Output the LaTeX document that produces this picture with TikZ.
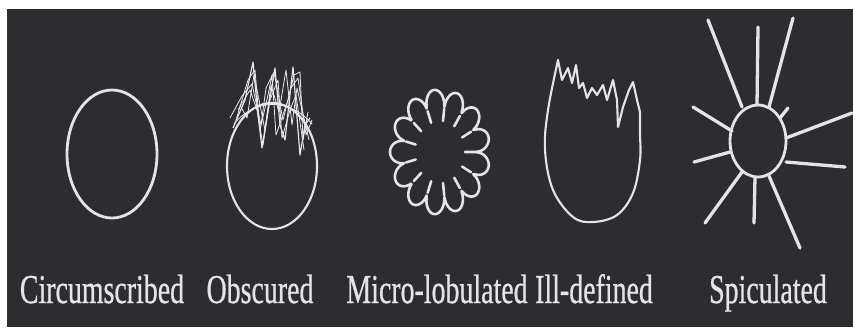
\documentclass[tikz,border=0pt]{standalone}
\usepackage{fontspec}
\setmainfont{Liberation Serif}
\newfontfamily\capfont[FakeBold=0.8]{Liberation Serif}
\definecolor{board}{HTML}{2D2D30}
\definecolor{chalk}{HTML}{E4E4E4}
\tikzset{
  outline/.style={draw=chalk, line width=2.4pt, line join=round, line cap=round},
  scribble/.style={draw=chalk!90, line width=0.7pt, line join=round},
  caption/.style={text=chalk, anchor=base, inner sep=0pt,
    font=\capfont\fontsize{35}{40}\selectfont},
}
\newcommand{\narrow}[1]{\scalebox{0.68}[1]{#1}}
\begin{document}
\begin{tikzpicture}[x=0.03cm, y=-0.03cm]
\useasboundingbox (0,0) rectangle (853,327);
\fill[white] (0,0) rectangle (853,327);
\fill[board] (7,9) rectangle (853,327);

% circumscribed
\draw[outline] (112,154) ellipse [x radius=45, y radius=64];

% obscured: circle with a tangle over its top
\draw[outline, line width=1.8pt] (272,166) ellipse [x radius=45, y radius=63];
\draw[scribble, line width=1pt] (233,128) -- (245,100) -- (253,62) -- (258,115) -- (262,148) -- (268,110) -- (275,68) -- (280,125) -- (285,140) -- (293,67) -- (298,130) -- (300,155) -- (305,125) -- (310,118);
\draw[scribble] (236,120) -- (248,80) -- (255,70) -- (260,130) -- (268,95) -- (272,75) -- (276,135) -- (288,100) -- (294,75) -- (300,72) -- (303,140) -- (308,112);
\draw[scribble] (238,110) -- (250,90) -- (257,110) -- (263,145) -- (270,100) -- (278,80) -- (282,138) -- (290,110) -- (296,95) -- (304,150);
\draw[scribble] (230,118) -- (242,96) -- (252,84) -- (261,125) -- (266,88) -- (274,72) -- (283,120) -- (291,88) -- (298,78) -- (306,135) -- (312,120);
\draw[scribble] (240,105) -- (247,118) -- (254,75) -- (259,100) -- (265,130) -- (271,85) -- (279,112) -- (286,70) -- (292,125) -- (297,88) -- (302,110) -- (309,140);
\draw[scribble] (234,124) .. controls (255,98) and (290,98) .. (312,124);

% micro-lobulated: 13 lobes with short inward notches
\draw[outline, line width=2.2pt] plot[domain=0:360, samples=400, smooth]
  ({440+(35+15*sqrt(abs(sin(6.5*\x))))*cos(\x)}, {152+1.25*(35+15*sqrt(abs(sin(6.5*\x))))*sin(\x)});
\foreach \a in {0,27.69,...,360}
  \draw[outline, line width=2.2pt] ({440+35*cos(\a)}, {152+1.25*35*sin(\a)}) -- ({440+25*cos(\a)}, {152+1.25*25*sin(\a)});

% ill-defined: rounded bottom, ragged top
\draw[outline, line width=1.8pt] plot[smooth, tension=0.6] coordinates {(558,60) (548,110) (545,150) (553,190) (573,217) (593,222) (617,215) (633,193) (640,160) (640,133) (640,112)};
\draw[outline, line width=1.8pt] (558,60) -- (562,80) -- (568,68) -- (572,83) -- (576,65) -- (579,88) -- (583,83) -- (587,98) -- (592,88) -- (597,95) -- (603,85) -- (607,100) -- (613,80) -- (617,100) -- (618,127) -- (623,107) -- (629,90) -- (633,82) -- (637,100) -- (640,112);

% spiculated: small core with rays
\draw[outline] (758,141) ellipse [x radius=28, y radius=36];
\foreach \ax/\ay/\bx/\by in {742/107/708/20, 757/105/758/27, 769/107/793/18, 780/118/788/108,
    786/138/852/113, 786/162/845/167, 769/176/800/248, 755/177/754/223,
    742/172/705/223, 730/152/694/162, 732/131/693/107}
  \draw[outline, line width=2.8pt] (\ax,\ay) -- (\bx,\by);

% names
\node[caption] (circ) at (102,303) {\narrow{Circumscribed}};
\node[caption] (obsc) at (260,303) {\narrow{Obscured}};
\node[caption] (micro) at (437,303) {\narrow{Micro-lobulated}};
\node[caption] (ill) at (594,303) {\narrow{Ill-defined}};
\node[caption] (spic) at (768,303) {\narrow{Spiculated}};
\end{tikzpicture}
\end{document}
